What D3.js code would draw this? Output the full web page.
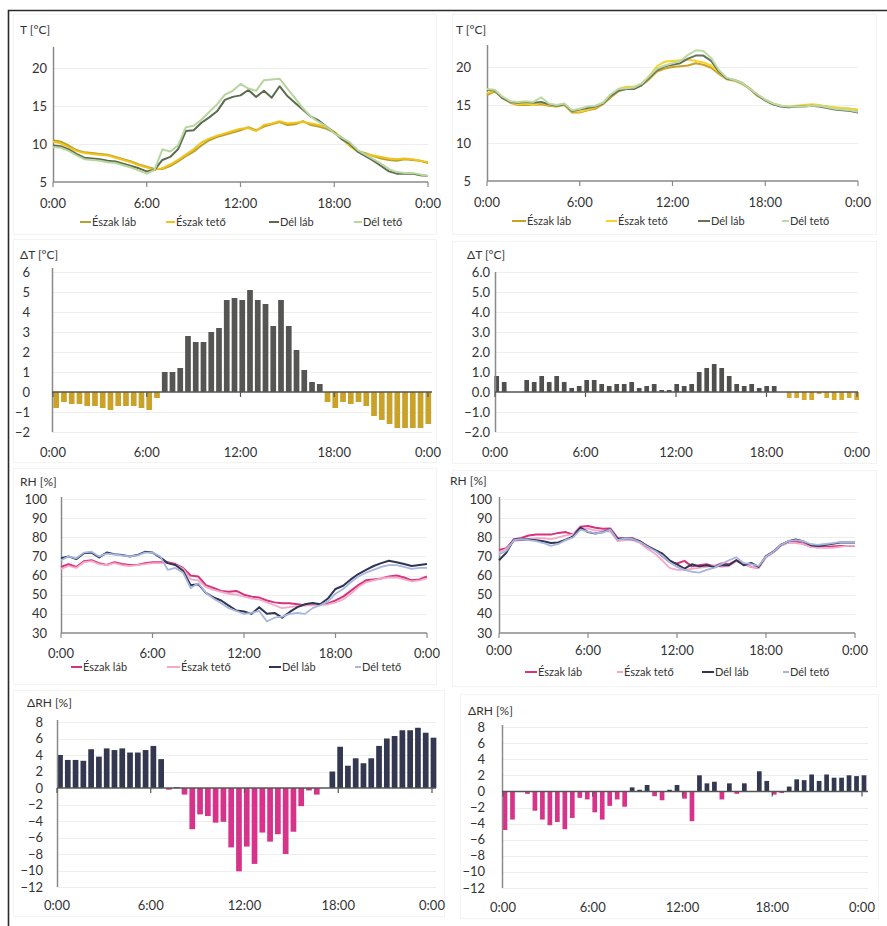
<!DOCTYPE html>
<html>
<head>
<meta charset="utf-8">
<script src="https://cdn.jsdelivr.net/npm/d3@7"></script>
<style>
body { margin: 0; background: #fff; }
svg text { font-family: Lato, "Open Sans", sans-serif; fill: #333; }
</style>
</head>
<body>
<svg id="chart" width="887" height="926"></svg>
<script>
// half-hourly categories 0:00 .. 24:00
var hours = d3.range(49).map(function(i){ return i / 2; });
var tickHours = [0, 6, 12, 18, 24];
var tickLabels = ["0:00", "6:00", "12:00", "18:00", "0:00"];
var seriesNames = ["Észak láb", "Észak tető", "Dél láb", "Dél tető"];

// T [°C], left
var tLeftEszakLab  = [10.5,10.3,9.8,9.2,8.9,8.8,8.7,8.6,8.3,8.0,7.7,7.3,7.0,6.7,6.7,7.1,7.7,8.4,9.0,9.8,10.5,10.9,11.2,11.5,11.8,12.2,11.8,12.3,12.6,12.9,12.5,12.6,13.0,12.5,12.3,12.0,11.5,10.8,9.9,9.1,8.8,8.4,8.1,7.9,7.8,8.0,7.9,7.8,7.5];
var tLeftEszakTeto = [10.3,10.1,9.6,9.1,8.8,8.7,8.6,8.5,8.2,7.9,7.6,7.2,6.9,6.6,6.8,7.3,7.9,8.6,9.3,10.2,10.7,11.1,11.4,11.7,12.0,12.1,11.7,12.5,12.7,13.0,12.7,12.8,12.9,12.7,12.5,12.2,11.6,10.7,9.7,9.0,8.7,8.5,8.3,8.1,8.0,8.1,8.0,7.8,7.6];
var tLeftDelLab    = [9.8,9.7,9.3,8.7,8.2,8.1,8.0,7.8,7.7,7.4,7.1,6.8,6.4,6.6,7.9,8.3,9.3,11.7,11.8,12.8,13.5,14.3,15.8,16.2,16.4,17.1,16.2,17.0,16.1,17.6,16.3,15.4,14.5,13.6,13.1,12.3,11.5,10.6,10.0,9.0,8.4,7.8,7.1,6.4,6.1,6.1,6.1,5.9,5.8];
var tLeftDelTeto   = [9.6,9.5,9.1,8.5,8.0,7.9,7.8,7.6,7.5,7.2,6.9,6.5,6.1,6.6,9.3,9.0,9.8,12.2,12.4,13.2,14.2,15.2,16.5,17.0,17.9,17.3,17.0,18.4,18.5,18.6,17.3,16.0,14.7,13.6,12.9,12.3,11.4,10.8,10.2,9.2,8.6,8.0,7.4,6.7,6.3,6.2,6.2,6.0,5.8];

// T [°C], right
var tRightEszakLab  = [16.3,16.8,15.9,15.3,15.0,15.0,15.0,15.1,14.9,14.8,15.0,14.0,14.0,14.3,14.5,15.1,16.0,16.8,17.1,17.2,17.6,18.4,19.4,19.8,20.0,20.1,20.2,20.5,20.3,19.9,19.1,18.4,18.2,17.8,17.1,16.2,15.6,15.1,14.9,14.7,14.8,14.9,15.0,14.9,14.8,14.6,14.5,14.5,14.3];
var tRightEszakTeto = [16.6,16.9,16.0,15.4,15.1,15.2,15.0,15.3,15.0,14.9,15.1,14.2,14.1,14.4,14.7,15.3,16.2,17.1,17.4,17.4,17.8,18.8,20.1,20.7,20.8,20.9,21.0,20.8,20.6,20.2,19.3,18.5,18.3,17.9,17.2,16.3,15.7,15.2,14.9,14.8,14.9,15.0,15.1,15.0,14.8,14.7,14.6,14.5,14.4];
var tRightDelLab    = [17.0,16.9,15.9,15.4,15.3,15.4,15.3,15.4,15.1,14.9,15.1,14.2,14.4,14.6,14.8,15.2,16.2,16.9,17.1,17.1,17.6,18.6,19.6,20.1,20.3,20.5,21.1,21.5,21.5,20.8,19.4,18.5,18.3,17.9,17.1,16.3,15.6,15.1,14.8,14.7,14.8,14.8,14.9,14.8,14.6,14.4,14.3,14.2,14.0];
var tRightDelTeto   = [17.1,17.0,16.1,15.5,15.4,15.5,15.4,16.0,15.2,15.0,15.2,14.3,14.5,14.8,14.9,15.3,16.4,17.1,17.2,17.3,17.8,18.8,19.8,20.2,20.5,20.8,21.6,22.2,22.1,21.2,19.6,18.6,18.3,17.9,17.1,16.4,15.7,15.2,14.9,14.8,14.8,14.8,14.9,14.9,14.7,14.5,14.4,14.3,14.1];

// ΔT [°C]
var dtLeft  = [-0.8,-0.5,-0.6,-0.6,-0.7,-0.7,-0.8,-0.9,-0.7,-0.7,-0.7,-0.8,-0.9,-0.3,1.0,1.0,1.2,2.8,2.5,2.5,3.0,3.2,4.6,4.7,4.6,5.1,4.6,4.4,3.3,4.6,3.3,2.1,1.1,0.5,0.4,-0.5,-0.8,-0.5,-0.6,-0.5,-0.7,-1.2,-1.4,-1.6,-1.8,-1.8,-1.8,-1.8,-1.6];
var dtRight = [0.8,0.5,0,0,0.6,0.5,0.8,0.5,0.8,0.5,0.2,0.3,0.6,0.6,0.4,0.3,0.4,0.4,0.5,0.2,0.3,0.4,0.1,0.1,0.4,0.3,0.4,1.0,1.2,1.4,1.2,0.8,0.4,0.3,0.4,0.2,0.3,0.3,0,-0.3,-0.3,-0.4,-0.4,-0.1,-0.3,-0.4,-0.4,-0.3,-0.4];

// RH [%], left
var rhLeftEszakLab  = [64.5,66,64.5,67.5,68,66.5,65.5,67,66,65.5,65.5,66.5,67,67,67,66,64,60,59.5,55,53.5,52,51.5,52,50,49,48.5,47,46,45.5,45.5,45,44.5,45,45,45.5,47,49,52,55,57.5,58,58.5,59.5,60,59,57.5,58,59.5];
var rhLeftEszakTeto = [63.5,65,64,67,67.5,66,65.5,66.5,65.5,65,65.5,66,66.5,66.5,66.5,65.5,63.5,58,57.5,54,52.5,51.5,50.5,50,49,48,47.5,46,44.5,43,43.5,44,44.5,44.5,44.5,45,46,47.5,50.5,54,56.5,57.5,58.5,59,59,58,57,57.5,58.5];
var rhLeftDelLab    = [69,70,68.6,71.7,72,69.5,72,71.2,70.7,70,70.7,72.4,72,69.5,66.5,65.5,62.5,55,55.5,51,48.6,47,44.3,41.7,41.2,40,43.5,40,40.5,38,41,43.5,45,45.7,45,48,53,54.7,58,60.8,63,65,66.5,67.7,67,66,65,65.5,66];
var rhLeftDelTeto   = [68,70,69,72,72.5,70,71.5,71,70.5,70,70.5,72,72,70,63,64,61.5,53.5,56,51,48,45.5,43,41.5,40,40.5,41.5,36,38,38.5,40,40.5,40,43,44.5,46.5,50.5,53,56.5,59.5,61.5,63,64.5,65.5,65.5,64.5,63.5,64,64];

// RH [%], right
var rhRightEszakLab  = [73.4,74.3,78.8,79.6,80.9,81.4,81.4,81.4,82.3,82.7,81.4,85.5,85.9,85,84.5,84.6,79.6,79.3,79.6,77.9,75.5,73.4,70.2,67.1,66.3,67.7,64.8,65.4,65.9,64.8,66.3,65.9,68,66.3,64.5,64.1,69.8,72.5,76,77.9,77.9,76.6,75.2,75.2,74.8,75.2,75.5,75.5,75.5];
var rhRightEszakTeto = [72,74,78,78.5,79,79.5,79.5,79,80,81,81.5,84,84.5,83.5,83.5,83,78,78.5,78.5,77,74,71.5,68,64,63,63,63.5,64,64.5,65.5,64.5,65,67.5,66,64.5,64,69.5,72,75.5,77,77,76.5,75,74.5,74.5,74.5,75,75.5,75.5];
var rhRightDelLab    = [68,72,78.8,79,78.8,78.4,77.9,77,77.3,78.8,80.5,85,82.7,82,82.7,84.1,79,79.6,79,77.9,75.2,73.4,71.6,68,65.9,63.6,65.9,64.8,65.4,64.5,65.4,65.4,68,65.4,66.6,64.5,70.2,72.5,76,77.9,78.8,77.9,76,75.5,76,76.6,77.3,77.3,77.3];
var rhRightDelTeto   = [71,73,78.5,79,78.5,78,77,75.5,76.5,78.5,80,84,83,82,82.5,84,78.5,79.5,79,77.5,75,73,70.5,67,64.5,63,62,61.5,63,64,66,68,69.5,66.5,66,65,70,72.5,76,78,78.5,78,76.5,76,76.5,77,77.5,77.5,77.5];

// ΔRH [%]
var drhLeft  = [4.0,3.4,3.4,3.3,4.7,3.8,4.8,4.6,4.8,4.3,4.3,4.6,5.1,3.5,-0.2,0.1,-0.8,-5.0,-3.2,-3.4,-4.2,-4.1,-7.2,-10.1,-7.1,-9.2,-5.4,-6.5,-5.6,-8.0,-5.3,-2.2,-0.3,-0.8,0,2.0,5.0,2.7,3.6,3.0,3.6,5.1,6.0,6.3,7.0,7.0,7.3,6.7,6.1];
var drhRight = [-4.8,-3.5,0.05,-0.3,-2.4,-3.5,-4.2,-3.8,-4.7,-3.3,-0.8,-1.0,-2.6,-3.5,-1.8,-1.0,-1.9,0.5,0.2,0.8,-0.6,-1.1,0.2,0.8,-0.9,-3.7,2.0,1.0,1.2,-1.0,1.0,-0.3,1.0,0,2.5,1.3,-0.4,-0.2,0.6,1.5,1.4,2.1,1.3,2.1,1.7,1.7,2.0,1.9,2.0];

var svg = d3.select("#chart");

// outer frame of the figure
svg.append("path")
    .attr("d", "M8.5,926 V10.5 H887")
    .attr("fill", "none")
    .attr("stroke", "#2a2a2a")
    .attr("stroke-width", 1.6);

var panels = [
    {type: "line", box: [13, 14, 423, 220], x0: 53, x1: 428, yDom: [5, 20], yRng: [182, 68], axisTop: 47,
     yTicks: [5, 10, 15, 20], fmt: d3.format("d"), labEnd: 47, title: "T [°C]", tx: 20, ty: 30, xLabY: 203,
     series: [tLeftEszakLab, tLeftEszakTeto, tLeftDelLab, tLeftDelTeto],
     colors: ["#b3a22e", "#f2c21b", "#5b6b4e", "#b7d59c"], widths: [2, 2, 2, 2],
     legY: 222, legX: [80, 166, 269, 354], legLen: [11, 9, 10, 8]},
    {type: "line", box: [452, 14, 424, 220], x0: 487, x1: 858, yDom: [5, 20], yRng: [181, 67], axisTop: 45,
     yTicks: [5, 10, 15, 20], fmt: d3.format("d"), labEnd: 471, title: "T [°C]", tx: 456, ty: 30, xLabY: 202,
     series: [tRightEszakLab, tRightEszakTeto, tRightDelLab, tRightDelTeto],
     colors: ["#c9a227", "#f6d32b", "#66735a", "#bcd9a6"], widths: [2, 2, 2, 2],
     legY: 221, legX: [512, 606, 698, 782], legLen: [14, 11, 12, 7]},
    {type: "bar", box: [13, 239, 423, 223], x0: 52, x1: 432, yDom: [-2, 6], yRng: [432, 272], axisTop: 268,
     yTicks: [-2, -1, 0, 1, 2, 3, 4, 5, 6], fmt: d3.format("d"), labEnd: 30, title: "ΔT [°C]", tx: 20, ty: 255, xLabY: 452,
     tickX: [53, 428], barRange: [56.2, 428.3], barW: 5.7, values: dtLeft, pos: "#555553", neg: "#c9a227"},
    {type: "bar", box: [452, 241, 424, 222], x0: 495, x1: 858, yDom: [-2, 6], yRng: [432, 272], axisTop: 272,
     yTicks: [-2, -1, 0, 1, 2, 3, 4, 5, 6], fmt: d3.format(".1f"), labEnd: 490, title: "ΔT [°C]", tx: 467, ty: 255, xLabY: 452,
     tickX: [495, 857], barRange: [496.7, 856.7], barW: 4.7, values: dtRight, pos: "#4f4f4d", neg: "#d4aa2a"},
    {type: "line", box: [13, 468, 423, 216], x0: 61, x1: 427, yDom: [30, 100], yRng: [633, 499], axisTop: 497,
     yTicks: [30, 40, 50, 60, 70, 80, 90, 100], fmt: d3.format("d"), labEnd: 47, title: "RH [%]", tx: 20, ty: 482, xLabY: 653,
     series: [rhLeftEszakLab, rhLeftEszakTeto, rhLeftDelLab, rhLeftDelTeto],
     colors: ["#d6337f", "#f2aac8", "#2f3552", "#a7b6e0"], widths: [2, 1.8, 2, 1.8],
     legY: 667, legX: [71, 167, 269, 355], legLen: [11, 13, 12, 6]},
    {type: "line", box: [452, 470, 424, 216], x0: 499, x1: 855, yDom: [30, 100], yRng: [633, 499], axisTop: 497,
     yTicks: [30, 40, 50, 60, 70, 80, 90, 100], fmt: d3.format("d"), labEnd: 492, title: "RH [%]", tx: 450, ty: 481, xLabY: 650,
     series: [rhRightEszakLab, rhRightEszakTeto, rhRightDelLab, rhRightDelTeto],
     colors: ["#d6337f", "#f2aac8", "#2f3552", "#a7b6e0"], widths: [2, 1.8, 2, 1.8],
     legY: 672, legX: [525, 617, 702, 783], legLen: [12, 6, 12, 6]},
    {type: "bar", box: [13, 690, 431, 226], x0: 57, x1: 436, yDom: [-12, 8], yRng: [887, 722], axisTop: 720,
     yTicks: [-12, -10, -8, -6, -4, -2, 0, 2, 4, 6, 8], fmt: d3.format("d"), labEnd: 43, title: "ΔRH [%]", tx: 27, ty: 703, xLabY: 905,
     tickX: [57, 432], barRange: [60, 433.5], barW: 5.7, values: drhLeft, pos: "#33374f", neg: "#d8338a"},
    {type: "bar", box: [460, 694, 418, 224], x0: 502, x1: 868, yDom: [-12, 8], yRng: [888, 727], axisTop: 725,
     yTicks: [-12, -10, -8, -6, -4, -2, 0, 2, 4, 6, 8], fmt: d3.format("d"), labEnd: 485, title: "ΔRH [%]", tx: 468, ty: 711, xLabY: 907,
     tickX: [503, 862], barRange: [505, 864], barW: 4.7, values: drhRight, pos: "#33374f", neg: "#d8338a"}
];

panels.forEach(function(p){
    var g = svg.append("g");

    // very faint chart-area border
    g.append("rect")
        .attr("x", p.box[0] + 0.5).attr("y", p.box[1] + 0.5)
        .attr("width", p.box[2]).attr("height", p.box[3])
        .attr("fill", "none")
        .attr("stroke", "#f3f3f3");

    var y = d3.scaleLinear().domain(p.yDom).range(p.yRng);
    var tx0 = p.type == "line" ? p.x0 : p.tickX[0];
    var tx1 = p.type == "line" ? p.x1 : p.tickX[1];
    var x = d3.scaleLinear().domain([0, 24]).range([tx0, tx1]);

    // gridlines
    g.selectAll(".grid")
        .data(p.yTicks.filter(function(d){ return p.type == "line" ? d != p.yDom[0] : d != 0; }))
        .enter()
        .append("line")
        .attr("x1", p.x0).attr("x2", p.x1)
        .attr("y1", function(d){ return Math.round(y(d)) + 0.5; })
        .attr("y2", function(d){ return Math.round(y(d)) + 0.5; })
        .attr("stroke", "#eeeeee");

    // y tick labels
    g.selectAll(".ylab")
        .data(p.yTicks)
        .enter()
        .append("text")
        .attr("x", p.labEnd)
        .attr("y", function(d){ return y(d); })
        .attr("dy", "0.35em")
        .attr("text-anchor", "end")
        .style("font-size", "13px")
        .text(function(d){ return p.fmt(d); });

    // title
    g.append("text")
        .attr("x", p.tx).attr("y", p.ty)
        .attr("dy", "0.35em")
        .style("font-size", "12px")
        .text(p.title);

    var baseY = p.type == "line" ? y(p.yDom[0]) : y(0);

    if(p.type == "bar"){
        var xb = d3.scaleLinear().domain([0, 24]).range(p.barRange);
        g.selectAll(".bar")
            .data(p.values)
            .enter()
            .append("rect")
            .attr("x", function(d, i){ return xb(hours[i]) - p.barW / 2; })
            .attr("width", p.barW)
            .attr("y", function(d){ return y(Math.max(0, d)); })
            .attr("height", function(d){ return Math.abs(y(d) - y(0)); })
            .attr("fill", function(d){ return d >= 0 ? p.pos : p.neg; });
    }

    // y axis line
    g.append("line")
        .attr("x1", p.x0 + 0.5).attr("x2", p.x0 + 0.5)
        .attr("y1", p.axisTop).attr("y2", y(p.yDom[0]))
        .attr("stroke", "#8a8a8a")
        .attr("stroke-width", 1.5);

    // x axis line and ticks
    g.append("line")
        .attr("x1", p.x0).attr("x2", p.x1)
        .attr("y1", baseY).attr("y2", baseY)
        .attr("stroke", p.type == "line" ? "#8a8a8a" : "#555")
        .attr("stroke-width", 1.5);

    g.selectAll(".xtick")
        .data(tickHours)
        .enter()
        .append("line")
        .attr("x1", function(d){ return x(d); })
        .attr("x2", function(d){ return x(d); })
        .attr("y1", baseY).attr("y2", baseY + 5)
        .attr("stroke", p.type == "line" ? "#8a8a8a" : "#555")
        .attr("stroke-width", 1.2);

    g.selectAll(".xlab")
        .data(tickHours)
        .enter()
        .append("text")
        .attr("x", function(d){ return x(d); })
        .attr("y", p.xLabY)
        .attr("dy", "0.35em")
        .attr("text-anchor", "middle")
        .style("font-size", "13px")
        .text(function(d, i){ return tickLabels[i]; });

    if(p.type == "line"){
        var line = d3.line()
            .x(function(d, i){ return x(hours[i]); })
            .y(function(d){ return y(d); });

        p.series.forEach(function(s, j){
            g.append("path")
                .datum(s)
                .attr("d", line)
                .attr("fill", "none")
                .attr("stroke", p.colors[j])
                .attr("stroke-width", p.widths[j])
                .attr("stroke-linejoin", "round");
        });

        // legend
        seriesNames.forEach(function(name, j){
            g.append("line")
                .attr("x1", p.legX[j]).attr("x2", p.legX[j] + p.legLen[j])
                .attr("y1", p.legY).attr("y2", p.legY)
                .attr("stroke", p.colors[j])
                .attr("stroke-width", 2);
            g.append("text")
                .attr("x", p.legX[j] + p.legLen[j] + 1)
                .attr("y", p.legY)
                .attr("dy", "0.35em")
                .style("font-size", "11px")
                .text(name);
        });
    }
});
</script>
</body>
</html>
